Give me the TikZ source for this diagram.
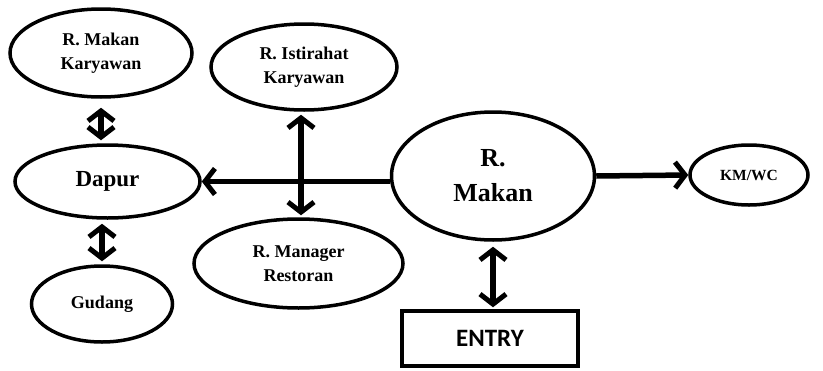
\documentclass[tikz,border=0pt]{standalone}
\usepackage{fontspec}
\setmainfont{Liberation Serif}
\newfontfamily\entryfont{Carlito}
\usetikzlibrary{shapes.geometric,arrows.meta}
\begin{document}
\begin{tikzpicture}[x=1pt,y=-1pt,
  chev/.tip={Straight Barb[length=10pt,width=26pt,line width=+5pt 0 1]},
  room/.style={ellipse,draw,line width=3.5pt,inner sep=0pt,align=center,
    font=\bfseries\fontsize{18}{24}\selectfont},
  link/.style={line width=5.5pt},
  entrybox/.style={rectangle,draw,line width=3.5pt,inner sep=0pt,
    minimum width=176pt,minimum height=55pt,
    font=\entryfont\bfseries\fontsize{25}{30}\selectfont}
]
\useasboundingbox (0,0) rectangle (823,370);

% rooms
\node[room,minimum width=182pt,minimum height=88pt] (mk) at (101,53) {R. Makan\\Karyawan};
\node[room,minimum width=186pt,minimum height=86pt] (ist) at (304,67) {R. Istirahat\\Karyawan};
\node[room,minimum width=185pt,minimum height=73pt,
      font=\bfseries\fontsize{23}{28}\selectfont] (dapur) at (107.5,181.5) {Dapur};
\node[room,minimum width=141pt,minimum height=76pt] (gudang) at (102,304) {Gudang};
\node[room,minimum width=209pt,minimum height=89pt] (mgr) at (298.5,263.5) {R. Manager\\Restoran};
\node[room,minimum width=203pt,minimum height=128pt,
      font=\bfseries\fontsize{26}{35}\selectfont] (makan) at (493,176) {R.\\Makan};
\node[room,minimum width=118pt,minimum height=60pt,
      font=\bfseries\fontsize{15.5}{19}\selectfont] (km) at (749,175) {KM/WC};
\node[entrybox] (entry) at (490,338.5) {ENTRY};

% connectors
\coordinate (vx) at (301,0);
\draw[link,chev-chev,shorten <=9pt,shorten >=3pt] (mk.south) -- (mk.south |- dapur.north);
\draw[link,chev-chev,shorten <=4pt,shorten >=3pt] (gudang.north |- dapur.south) -- (gudang.north);
\draw[link,chev-] (dapur.east) -- (dapur.east -| makan.west);
\draw[link,chev-chev,shorten <=3pt,shorten >=2pt] (vx |- ist.south) -- (vx |- mgr.north);
\draw[link,-chev] (makan.east) -- (km.west);
\draw[link,chev-chev,shorten <=5pt,shorten >=2pt] (makan.south) -- (makan.south |- entry.north);
\end{tikzpicture}
\end{document}
